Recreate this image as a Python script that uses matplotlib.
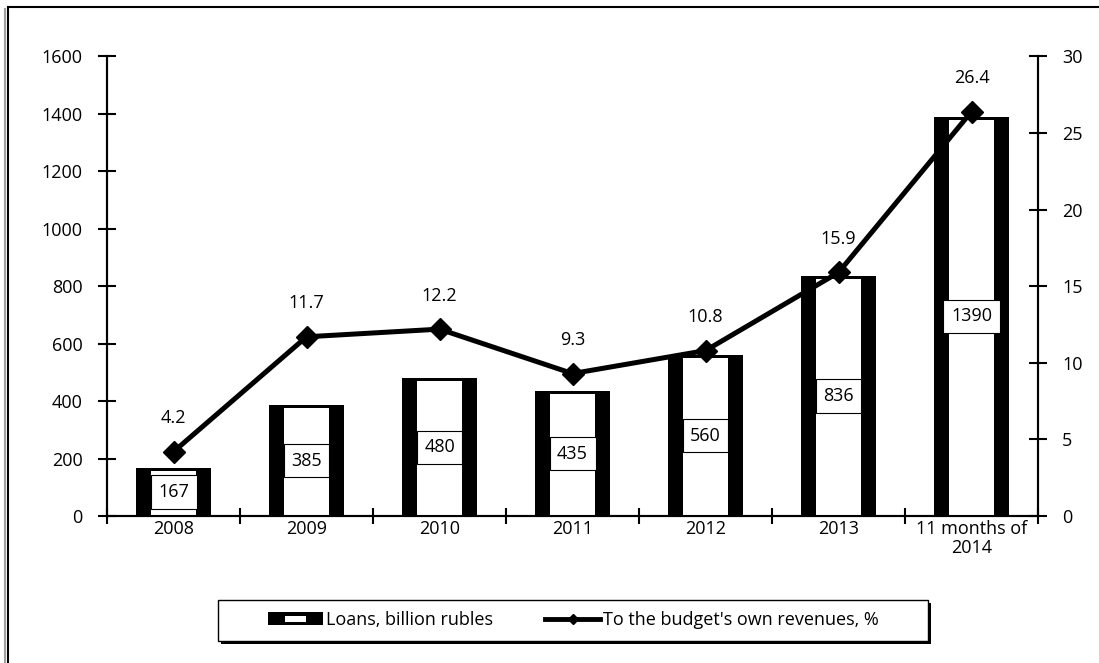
import numpy as np
import matplotlib
matplotlib.use('Agg')
import matplotlib.pyplot as plt
from matplotlib.lines import Line2D
from matplotlib.patches import Rectangle, Patch
from matplotlib.legend_handler import HandlerBase

plt.rcParams['font.family'] = ['Open Sans', 'DejaVu Sans']
plt.rcParams['font.size'] = 13

years = ['2008', '2009', '2010', '2011', '2012', '2013', '11 months of\n2014']
loans = np.array([167, 385, 480, 435, 560, 836, 1390])
share = np.array([4.2, 11.7, 12.2, 9.3, 10.8, 15.9, 26.4])


class BarHandler(HandlerBase):
    # black block with a white window, like the hollow bars
    def create_artists(self, legend, orig, xd, yd, w, h, fs, trans):
        outer = Rectangle((-xd, -yd), w, h, fc='black', ec='none', transform=trans)
        inner = Rectangle((-xd + w * 0.3, -yd + h * 0.25), w * 0.4, h * 0.5,
                          fc='white', ec='none', transform=trans)
        return [outer, inner]


fig = plt.figure(figsize=(10.99, 6.63), dpi=100)
ax = fig.add_axes([0.0974, 0.2217, 0.8471, 0.6931])
ax2 = ax.twinx()

x = np.arange(len(years))
ax.bar(x, loans, width=0.57, color='black', zorder=2)
ax.bar(x, loans - 10, width=0.34, color='white', zorder=3)
for xi, v in zip(x, loans):
    ax.text(xi, v / 2, str(v), ha='center', va='center', fontsize=13, zorder=4,
            bbox=dict(boxstyle='square,pad=0.42', fc='white', ec='black', lw=0.8))

ax2.plot(x, share, color='black', lw=3.6, marker='D', markersize=11, zorder=5)
for xi, v in zip(x, share):
    ax2.annotate(f'{v}', (xi, v), xytext=(0, 24), textcoords='offset points',
                 ha='center', va='center', fontsize=13)

ax.set_xlim(-0.5, len(years) - 0.5)
ax.set_ylim(0, 1600)
ax2.set_ylim(0, 30)
ax.set_yticks(np.arange(0, 1601, 200))
ax2.set_yticks(np.arange(0, 31, 5))
ax.set_xticks(x)
ax.set_xticklabels(years, linespacing=1.05)
ax.set_xticks(np.arange(-0.5, len(years)), minor=True)

ax.tick_params(axis='x', which='major', length=0, pad=3)
ax.tick_params(axis='x', which='minor', direction='inout', length=12, width=1.5)
ax.tick_params(axis='y', direction='inout', length=13, width=1.5, pad=11)
ax2.tick_params(axis='y', direction='inout', length=13, width=1.5, pad=11)

for a in (ax, ax2):
    a.spines['top'].set_visible(False)
    for s in ('left', 'right', 'bottom'):
        a.spines[s].set_linewidth(1.5)

# legend box with a drop shadow
lx0, ly0, lw_, lh = 218 / 1099, 1 - 641 / 663, 710 / 1099, 41 / 663
fig.patches.append(Rectangle((lx0 + 3 / 1099, ly0 - 3 / 663), lw_, lh, fc='black', ec='none',
                             transform=fig.transFigure, zorder=1))
fig.patches.append(Rectangle((lx0, ly0), lw_, lh, fc='white', ec='black', lw=1,
                             transform=fig.transFigure, zorder=2))
handles = [Patch(fc='black'),
           Line2D([], [], color='black', lw=3.5, marker='D', markersize=5)]
leg = fig.legend(handles, ['Loans, billion rubles', "To the budget's own revenues, %"],
                 handler_map={Patch: BarHandler()}, ncol=2, frameon=False,
                 loc='center', bbox_to_anchor=(0.522, 1 - 620 / 663),
                 handlelength=3.0, handletextpad=0.2, columnspacing=2.9,
                 fontsize=13)

# outer frame lines
fig.add_artist(Line2D([8 / 1099, 1], [1 - 7 / 663, 1 - 7 / 663], color='black', lw=1.5,
                      transform=fig.transFigure))
fig.add_artist(Line2D([8 / 1099, 8 / 1099], [0, 1 - 7 / 663], color='black', lw=1.5,
                      transform=fig.transFigure))
fig.add_artist(Line2D([5 / 1099, 5 / 1099], [0, 1 - 9 / 663], color='#a0a0a0', lw=1.5,
                      transform=fig.transFigure))

fig.savefig('out.png', dpi=100)
